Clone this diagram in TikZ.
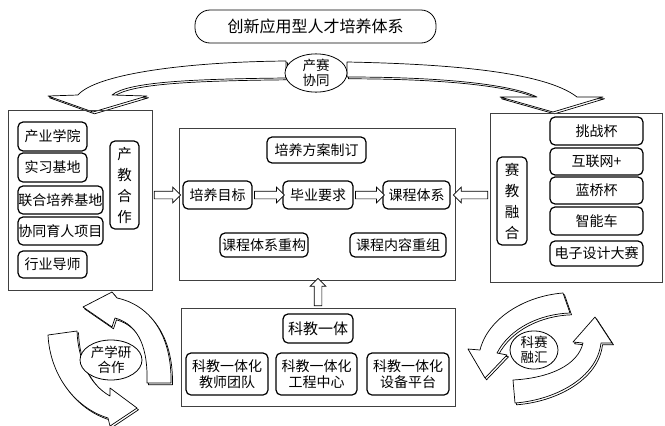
\documentclass[tikz,border=0pt]{standalone}
\usepackage{fontspec}
\newfontfamily\cjk{Noto Sans CJK SC}
\usetikzlibrary{shapes.arrows,shapes.geometric,calc}
\tikzset{
 rbox/.style={draw, line width=1.2pt, rounded corners=5pt, inner sep=0pt, align=center,
   font=\cjk\fontsize{14}{15.5}\selectfont},
 vbox/.style={rbox, font=\cjk\fontsize{14.5}{21}\selectfont},
 panel/.style={draw=black!75, line width=0.8pt, inner sep=0pt},
 titlebox/.style={draw, line width=0.8pt, rounded corners=15pt, inner sep=0pt,
   font=\cjk\fontsize{16}{18}\selectfont},
 harrow/.style={draw, fill=white, single arrow, single arrow head extend=4pt,
   text height=0pt, text depth=0pt, inner xsep=0pt, inner ysep=3.5pt,
   line width=0.7pt, sloped, allow upside down},
 elab/.style={draw, ellipse, fill=white, line width=0.8pt, inner sep=0pt, align=center,
   font=\cjk\fontsize{13.5}{14.5}\selectfont},
 band/.style={draw, fill=white, line width=0.7pt, line join=round},
 bandshadow/.style={draw, fill=white, line width=0.7pt, line join=round, shift={(1.5,1.8)}},
}
\newcommand\fatarrow[2]{\path let \p1=(#1), \p2=(#2), \n1={veclen(\x2-\x1,\y2-\y1)} in
  (\p1) -- node[harrow, minimum height=\n1]{} (\p2);}
\newcommand\bandarrow[1]{\path[bandshadow] #1; \path[band] #1;}
\begin{document}
\begin{tikzpicture}[x=1pt,y=-1pt]
\useasboundingbox (0,0) rectangle (665,426);

% title
\node[titlebox, minimum width=241, minimum height=33] (title) at (315.5,26.5) {创新应用型人才培养体系};

% top curved arrow
\bandarrow{(78,95) .. controls (95,75) and (180,62) .. (286,61) -- (286,78)
  .. controls (190,79) and (128,82) .. (112,95) -- (147,96) -- (93,112) -- (48,96) -- cycle}
\bandarrow{(347,62) .. controls (450,64) and (545,72) .. (577,97) -- (603,97) -- (553,112)
  -- (500,97) -- (537,97) .. controls (510,84) and (440,77) .. (347,77) -- cycle}
\node[elab, minimum width=62, minimum height=36] (cs) at (316,73) {产赛\\协同};

% left panel
\node[panel, minimum width=144, minimum height=180] (lp) at (80,200) {};
\node[rbox, minimum width=69, minimum height=29] (l1) at (52.5,136.5) {产业学院};
\node[rbox, minimum width=69, minimum height=29] (l2) at (52.5,167.5) {实习基地};
\node[rbox, minimum width=85, minimum height=28] (l3) at (60.5,200) {联合培养基地};
\node[rbox, minimum width=85, minimum height=28] (l4) at (60.5,231) {协同育人项目};
\node[rbox, minimum width=69, minimum height=27] (l5) at (52.5,264.5) {行业导师};
\node[vbox, minimum width=29, minimum height=88] (cj) at (124.5,185) {产\\教\\合\\作};

% center panel
\node[panel, minimum width=276, minimum height=152] (cp) at (317,204) {};
\node[rbox, minimum width=99, minimum height=26] (pf) at (316.5,150) {培养方案制订};
\node[rbox, minimum width=69, minimum height=28] (pm) at (217.5,195) {培养目标};
\node[rbox, minimum width=70, minimum height=28] (by) at (318,195) {毕业要求};
\node[rbox, minimum width=67, minimum height=28] (kc) at (416.5,195) {课程体系};
\node[rbox, minimum width=88, minimum height=24] (cg) at (264,245) {课程体系重构};
\node[rbox, minimum width=96, minimum height=24] (nr) at (398,245) {课程内容重组};

% right panel
\node[panel, minimum width=172, minimum height=169] (rp) at (576,197.5) {};
\node[rbox, minimum width=93, minimum height=28] (r1) at (596.5,131) {挑战杯};
\node[rbox, minimum width=93, minimum height=27] (r2) at (596.5,161.5) {互联网+};
\node[rbox, minimum width=93, minimum height=27] (r3) at (596.5,190.5) {蓝桥杯};
\node[rbox, minimum width=93, minimum height=28] (r4) at (596.5,221) {智能车};
\node[rbox, minimum width=93, minimum height=25] (r5) at (596.5,253.5) {电子设计大赛};
\node[vbox, minimum width=30, minimum height=88] (sj) at (512,201) {赛\\教\\融\\合};

% bottom panel
\node[panel, minimum width=274, minimum height=98] (bp) at (318,357) {};
\node[rbox, minimum width=70, minimum height=29, font=\cjk\fontsize{15}{16}\selectfont] (kj) at (318,328.5) {科教一体};
\node[rbox, minimum width=82, minimum height=42] (b1) at (227,374) {科教一体化\\教师团队};
\node[rbox, minimum width=81, minimum height=42] (b2) at (316.5,374) {科教一体化\\工程中心};
\node[rbox, minimum width=82, minimum height=42] (b3) at (408,374) {科教一体化\\设备平台};

% hollow arrows
\fatarrow{pm.west -| lp.east}{pm.west -| cp.west}
\fatarrow{pm.east}{by.west}
\fatarrow{by.east}{kc.west}
\fatarrow{kc.east -| rp.west}{kc.east -| cp.east}
\fatarrow{bp.north}{bp.north |- cp.south}

% left cycle
\bandarrow{(117,298) .. controls (150,305) and (172,335) .. (171,383) -- (147,383)
  .. controls (148,350) and (140,325) .. (115,318) -- (112,327) -- (83,307) -- (112,292) -- cycle}
\bandarrow{(48,335) .. controls (50,375) and (75,408) .. (108,418) -- (110,426) -- (137,408)
  -- (110,388) -- (110,396) .. controls (90,385) and (78,360) .. (77,331) -- cycle}
\node[elab, minimum width=62, minimum height=40] (cxy) at (111,360) {产学研\\合作};

% right cycle
\bandarrow{(563,293) .. controls (525,296) and (488,318) .. (480,350) -- (468,349) -- (485,378)
  -- (507,355) -- (497,353) .. controls (510,328) and (540,314) .. (570,313) -- cycle}
\bandarrow{(513,380) .. controls (550,378) and (578,365) .. (583,343) -- (573,342) -- (595,317)
  -- (612,343) -- (601,343) .. controls (597,378) and (555,400) .. (515,403) -- cycle}
\node[elab, minimum width=48, minimum height=36] (ksr) at (534,350) {科赛\\融汇};
\end{tikzpicture}
\end{document}
